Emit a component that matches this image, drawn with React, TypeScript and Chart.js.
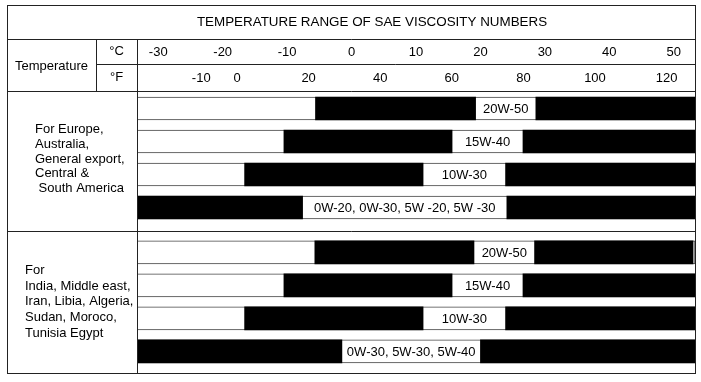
import React, { useEffect, useRef } from "react";
import { Chart, registerables } from "chart.js";

Chart.register(...registerables);

// ---- data (°C) ----
const C_MIN = -33.3;
const C_MAX = 53.3;

const title = "TEMPERATURE RANGE OF SAE VISCOSITY NUMBERS";
const celsiusTicks = [-30, -20, -10, 0, 10, 20, 30, 40, 50];
const fahrenheitTicks = [-10, 0, 20, 40, 60, 80, 100, 120];

const regionLines1 = ["For Europe,", "Australia,", "General export,", "Central &", " South America"];
const regionLines2 = ["For", "India, Middle east,", "Iran, Libia, Algeria,", "Sudan, Moroco,", "Tunisia Egypt"];

const grades = [
  "20W-50",
  "15W-40",
  "10W-30",
  "0W-20, 0W-30, 5W -20, 5W -30",
  "20W-50",
  "15W-40",
  "10W-30",
  "0W-30, 5W-30, 5W-40",
];
const regionOfRow = [0, 0, 0, 0, 1, 1, 1, 1];
const blackStart = [-5.6, -10.5, -16.6, C_MIN, -5.7, -10.5, -16.6, C_MIN];
const gapStart = [19.25, 15.6, 11.1, -7.6, 19.0, 15.6, 11.1, -1.5];
const gapEnd = [28.6, 26.6, 23.9, 24.1, 28.4, 26.6, 23.9, 20.0];
const blackEnd = [C_MAX, C_MAX, C_MAX, C_MAX, 53.0, C_MAX, C_MAX, C_MAX];

// layout: extra space (in rows) between the two region blocks
const SECTION_GAP = 0.36;
const Y_MIN = -0.53;
const Y_MAX = 8.015;

const FONT = '"Liberation Sans", Arial, Helvetica, sans-serif';
const LINE = "#222";

const fToC = (f: number) => ((f - 32) * 5) / 9;
const rowPos = (i: number) => i + regionOfRow[i] * SECTION_GAP;

const tablePlugin = {
  id: "tablePlugin",
  afterDraw(chart: any) {
    const { ctx, chartArea, scales } = chart;
    const x = scales.x;
    const y = scales.y;
    const L = 7, T = 5;
    const R = chartArea.right;
    const B = chartArea.bottom;
    const colDiv = chartArea.left;
    const subDiv = 96;
    const titleBottom = 39;
    const cfDiv = 64;
    const headBottom = chartArea.top;
    const secDiv = (y.getPixelForValue(rowPos(3)) + y.getPixelForValue(rowPos(4))) / 2 + 1;

    ctx.save();
    ctx.strokeStyle = LINE;
    ctx.lineWidth = 1;
    const h = (x1: number, x2: number, yy: number) => {
      ctx.beginPath();
      ctx.moveTo(x1, Math.round(yy) + 0.5);
      ctx.lineTo(x2, Math.round(yy) + 0.5);
      ctx.stroke();
    };
    const v = (xx: number, y1: number, y2: number) => {
      ctx.beginPath();
      ctx.moveTo(Math.round(xx) + 0.5, y1);
      ctx.lineTo(Math.round(xx) + 0.5, y2);
      ctx.stroke();
    };
    ctx.strokeRect(L + 0.5, T + 0.5, R - L, B - T);
    h(L, R + 0.5, titleBottom);
    h(subDiv, R + 0.5, cfDiv);
    h(L, R + 0.5, headBottom);
    h(L, R + 0.5, secDiv);
    v(colDiv, titleBottom, B + 0.5);
    v(subDiv, titleBottom, headBottom);

    ctx.fillStyle = "#000";
    ctx.textBaseline = "middle";
    ctx.textAlign = "center";
    ctx.font = `13.4px ${FONT}`;
    ctx.fillText(title, 372, 22);

    ctx.font = `13px ${FONT}`;
    ctx.fillText("Temperature", (L + subDiv) / 2, 66);
    ctx.fillText("°C", (subDiv + colDiv) / 2, 51);
    ctx.fillText("°F", (subDiv + colDiv) / 2, 77);

    celsiusTicks.forEach((c) => ctx.fillText(String(c), x.getPixelForValue(c), 52));
    fahrenheitTicks.forEach((f) => ctx.fillText(String(f), x.getPixelForValue(fToC(f)), 78));

    ctx.textAlign = "left";
    const sec1Mid = (y.getPixelForValue(rowPos(1)) + y.getPixelForValue(rowPos(2))) / 2 + 1;
    const sec2Mid = (y.getPixelForValue(rowPos(5)) + y.getPixelForValue(rowPos(6))) / 2;
    regionLines1.forEach((s, i) => ctx.fillText(s, 35, sec1Mid + (i - 2) * 14.7));
    regionLines2.forEach((s, i) => ctx.fillText(s, 25, sec2Mid + (i - 2) * 15.6));

    ctx.textAlign = "center";
    grades.forEach((g, i) => {
      const cx = x.getPixelForValue((gapStart[i] + gapEnd[i]) / 2);
      ctx.fillText(g, cx, y.getPixelForValue(rowPos(i)) + 1);
    });
    ctx.restore();
  },
};

export default function App() {
  const ref = useRef<HTMLCanvasElement | null>(null);
  useEffect(() => {
    if (!ref.current) return;
    const common = { grouped: false, barThickness: 23 };
    const chart = new Chart(ref.current, {
      type: "bar",
      data: {
        datasets: [
          {
            label: "row",
            data: grades.map((_, i) => ({ y: rowPos(i), x: [C_MIN, C_MAX] })) as any,
            backgroundColor: "#fff",
            borderColor: "#444",
            borderWidth: 1,
            borderSkipped: false,
            order: 3,
            ...common,
          },
          {
            label: "low",
            data: blackStart.map((s, i) => ({ y: rowPos(i), x: [s, gapStart[i]] })) as any,
            backgroundColor: "#000",
            borderWidth: 0,
            order: 1,
            ...common,
          },
          {
            label: "high",
            data: gapEnd.map((s, i) => ({ y: rowPos(i), x: [s, blackEnd[i]] })) as any,
            backgroundColor: "#000",
            borderWidth: 0,
            order: 1,
            ...common,
          },
        ],
      },
      options: {
        indexAxis: "y",
        animation: false,
        responsive: false,
        maintainAspectRatio: false,
        events: [],
        layout: { padding: { left: 137, right: 6, top: 91, bottom: 9 } },
        plugins: { legend: { display: false }, tooltip: { enabled: false }, title: { display: false } },
        scales: {
          x: { type: "linear", min: C_MIN, max: C_MAX, display: false },
          y: { type: "linear", min: Y_MIN, max: Y_MAX, reverse: true, offset: false, display: false },
        },
      },
      plugins: [tablePlugin],
    });
    return () => chart.destroy();
  }, []);
  return (
    <div style={{ position: "absolute", left: 0, top: 0, width: 701, height: 382, background: "#fff" }}>
      <canvas ref={ref} width={701} height={382} style={{ display: "block", width: 701, height: 382 }} />
    </div>
  );
}
